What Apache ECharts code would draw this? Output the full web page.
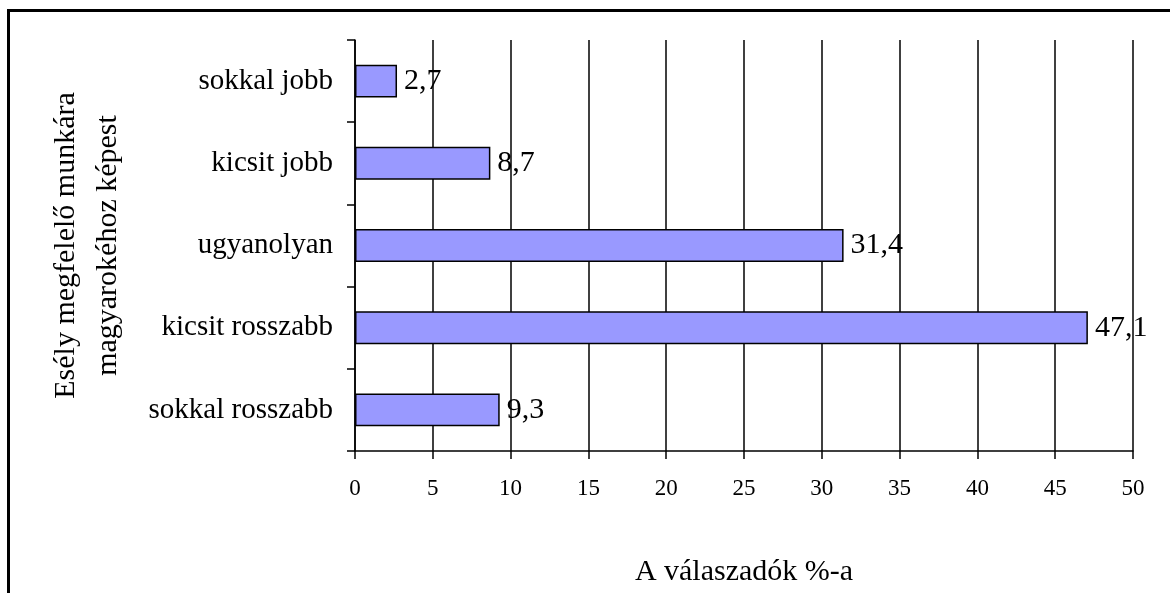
<!DOCTYPE html>
<html>
<head>
<meta charset="utf-8">
<script src="https://cdn.jsdelivr.net/npm/echarts@6/dist/echarts.min.js"></script>
<style>
  html, body { margin: 0; padding: 0; background: #fff; }
  #chart { width: 1170px; height: 593px; }
</style>
</head>
<body>
<div id="chart"></div>
<script>
// válaszkategóriák felülről lefelé
var categories = ['sokkal jobb', 'kicsit jobb', 'ugyanolyan', 'kicsit rosszabb', 'sokkal rosszabb'];
var values = [2.7, 8.7, 31.4, 47.1, 9.3];
var xTicks = [0, 5, 10, 15, 20, 25, 30, 35, 40, 45, 50];

var font = '"Liberation Serif", "Times New Roman", serif';

var chart = echarts.init(document.getElementById('chart'));
chart.setOption({
  animation: false,
  textStyle: { fontFamily: font, color: '#000' },
  grid: { left: 355, right: 37, top: 40, bottom: 142 },
  xAxis: {
    type: 'value',
    min: xTicks[0],
    max: xTicks[xTicks.length - 1],
    interval: 5,
    name: 'A válaszadók %-a',
    nameLocation: 'middle',
    nameGap: 106,
    nameTextStyle: { fontFamily: font, fontSize: 30, color: '#000' },
    axisLine: { show: true, lineStyle: { color: '#000', width: 1.5 } },
    axisTick: { show: true, length: 8, lineStyle: { color: '#000', width: 1.5 } },
    axisLabel: { fontFamily: font, fontSize: 23, color: '#000', margin: 26 },
    splitLine: { show: true, lineStyle: { color: '#000', width: 1.5 } }
  },
  yAxis: {
    type: 'category',
    data: categories,
    inverse: true,
    name: 'Esély megfelelő munkára\nmagyarokéhoz képest',
    nameLocation: 'middle',
    nameRotate: 90,
    nameGap: 226,
    nameTextStyle: { fontFamily: font, fontSize: 30, color: '#000', lineHeight: 42 },
    axisLine: { show: true, lineStyle: { color: '#000', width: 1.5 } },
    axisTick: { show: true, length: 8, lineStyle: { color: '#000', width: 1.5 } },
    axisLabel: { fontFamily: font, fontSize: 29, color: '#000', margin: 22 },
    splitLine: { show: false }
  },
  series: [{
    type: 'bar',
    data: values,
    barWidth: '40%',
    itemStyle: { color: '#9999ff', borderColor: '#000', borderWidth: 1.5 },
    label: {
      show: true,
      position: 'right',
      distance: 7,
      fontFamily: font,
      fontSize: 30,
      color: '#000',
      formatter: function (p) { return String(p.value).replace('.', ','); }
    }
  }],
  graphic: [
    { type: 'line', shape: { x1: 8, y1: 10.5, x2: 1170, y2: 10.5 }, style: { stroke: '#000', lineWidth: 3 } },
    { type: 'line', shape: { x1: 8.5, y1: 9, x2: 8.5, y2: 593 }, style: { stroke: '#000', lineWidth: 3 } }
  ]
});
</script>
</body>
</html>
